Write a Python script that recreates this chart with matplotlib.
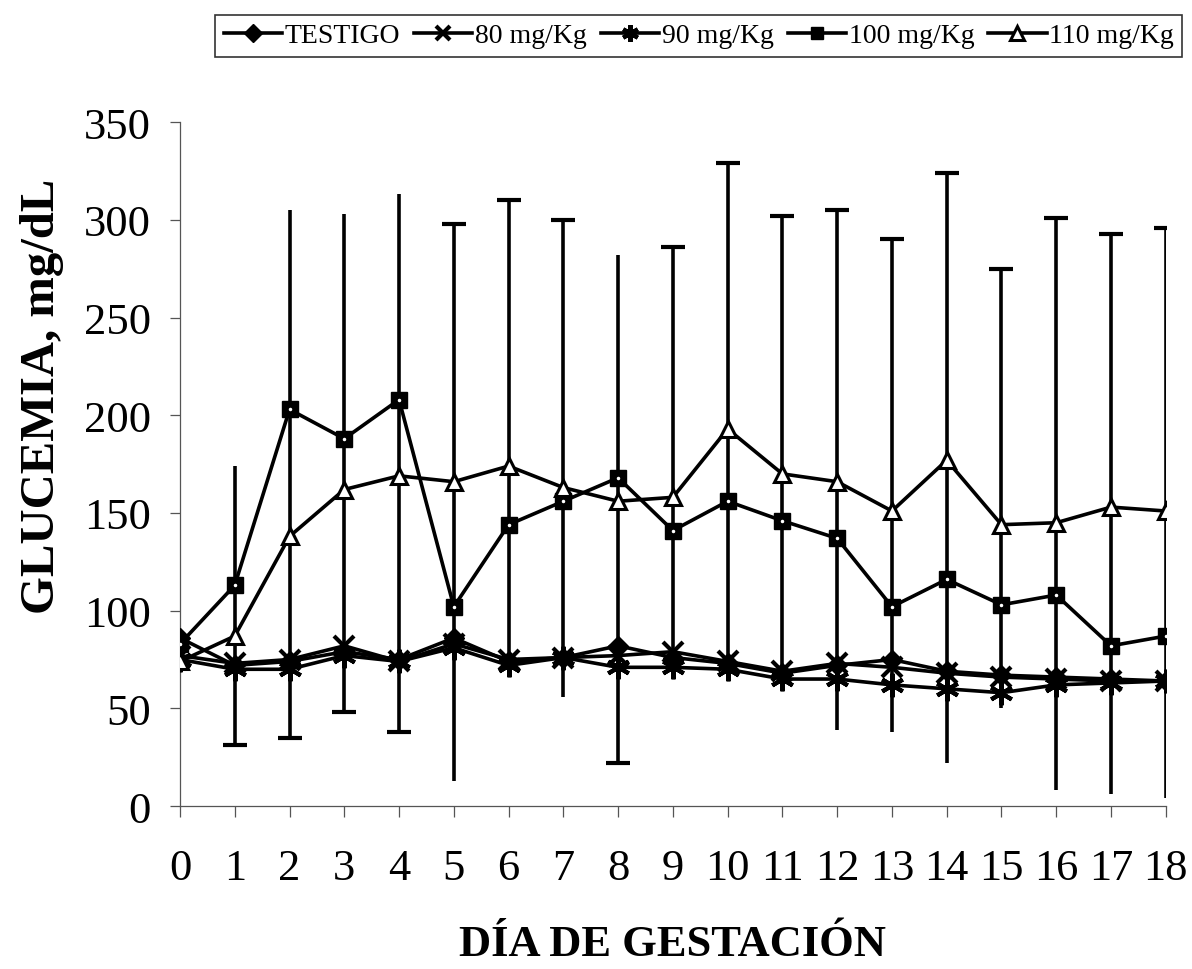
import numpy as np
import matplotlib
matplotlib.use('Agg')
import matplotlib.pyplot as plt

# datos
dias = list(range(19))
testigo = [86, 72, 74, 79, 75, 86, 74, 76, 82, 76, 73, 68, 72, 75, 69, 67, 66, 65, 64]
mg80 = [77, 73, 75, 82, 74, 83, 75, 76, 77, 79, 74, 69, 73, 71, 68, 66, 65, 64, 64]
mg90 = [75, 70, 70, 77, 74, 81, 72, 76, 71, 71, 70, 65, 65, 62, 60, 58, 62, 63, 64]
mg100 = [83, 113, 203, 188, 208, 102, 144, 156, 168, 141, 156, 146, 137, 102, 116, 103, 108, 82, 87]
mg110 = [74, 87, 138, 162, 169, 166, 174, 163, 156, 158, 193, 170, 166, 151, 177, 144, 145, 153, 151]

# extremos de las barras de error
err_sup = [np.nan, 174, 305, 303, 313, 298, 310, 300, 282, 286, 329, 302, 305, 290, 324, 275, 301, 293, 296]
err_inf = [np.nan, 31, 35, 48, 38, 13, np.nan, 56, 22, np.nan, np.nan, np.nan, 39, 38, 22, 50, 8, 6, 4]
tapa_sup = [0, 0, 0, 0, 0, 1, 1, 1, 0, 1, 1, 1, 1, 1, 1, 1, 1, 1, 1]
tapa_inf = [0, 1, 1, 1, 1, 0, 0, 0, 1, 0, 0, 0, 0, 0, 0, 0, 0, 0, 0]

plt.rcParams['font.family'] = ['Liberation Serif', 'DejaVu Serif']

fig = plt.figure(figsize=(11.92, 9.70), dpi=100)
ax = fig.add_axes([0.151, 0.168, 0.827, 0.705])

x = np.array(dias)
sup = np.array(err_sup)
inf = np.where(np.isnan(err_inf), mg90, err_inf)
ok = ~np.isnan(sup)
ax.vlines(x[ok], inf[ok], sup[ok], color='black', lw=2.6, zorder=1)
ts = np.array(tapa_sup, bool)
ti = np.array(tapa_inf, bool)
ax.plot(x[ts], sup[ts], ls='none', marker='_', ms=17, mew=3, color='black', zorder=1)
ax.plot(x[ti], np.array(err_inf)[ti], ls='none', marker='_', ms=17, mew=3, color='black', zorder=1)

lw = 2.6
ax.plot(dias, testigo, color='black', lw=lw, marker='D', ms=10, label='TESTIGO', zorder=3)
ax.plot(dias, mg80, color='black', lw=lw, marker='x', ms=14, mew=3, label='80 mg/Kg', zorder=3)
ax.plot(dias, mg90, color='black', lw=lw, marker=(6, 2, 0), ms=17, mew=3, label='90 mg/Kg', zorder=3)
ax.plot(dias, mg100, color='black', lw=lw, marker='s', ms=11, label='100 mg/Kg', zorder=3)
ax.plot(dias, mg100, ls='none', marker='.', ms=3, color='white', zorder=4)
ax.plot(dias, mg110, color='black', lw=lw, marker='^', ms=12, mfc='white', mec='black',
        mew=2.2, label='110 mg/Kg', zorder=3)

ax.set_xlim(0, 18)
ax.set_ylim(0, 350)
ax.set_xticks(dias)
ax.set_yticks(range(0, 351, 50))
ax.spines['top'].set_visible(False)
ax.spines['right'].set_visible(False)
for s in ['left', 'bottom']:
    ax.spines[s].set_color('#555555')
    ax.spines[s].set_linewidth(0.9)
ax.tick_params(axis='y', direction='out', length=7, width=0.9, color='#555555',
               labelsize=32, pad=14)
ax.tick_params(axis='x', direction='out', length=8, width=0.9, color='#555555',
               labelsize=32, pad=22)

ax.set_xlabel('DÍA DE GESTACIÓN', fontsize=32, fontweight='bold', labelpad=26)
ax.set_ylabel('GLUCEMIA, mg/dL', fontsize=35, fontweight='bold')
ax.yaxis.set_label_coords(-0.118, 0.60)

leg = fig.legend(loc='upper right', bbox_to_anchor=(0.992, 0.984), ncol=5,
                 fontsize=20, handlelength=2.1, handletextpad=0.1, columnspacing=0.5,
                 fancybox=False, frameon=True, borderpad=0.3, borderaxespad=0)
leg.get_frame().set_edgecolor('black')
leg.get_frame().set_linewidth(1.2)
for h, m in zip(leg.legend_handles, [9, 10, 12, 9, 10]):
    h.set_markersize(m)

fig.savefig('out.png', dpi=100)
